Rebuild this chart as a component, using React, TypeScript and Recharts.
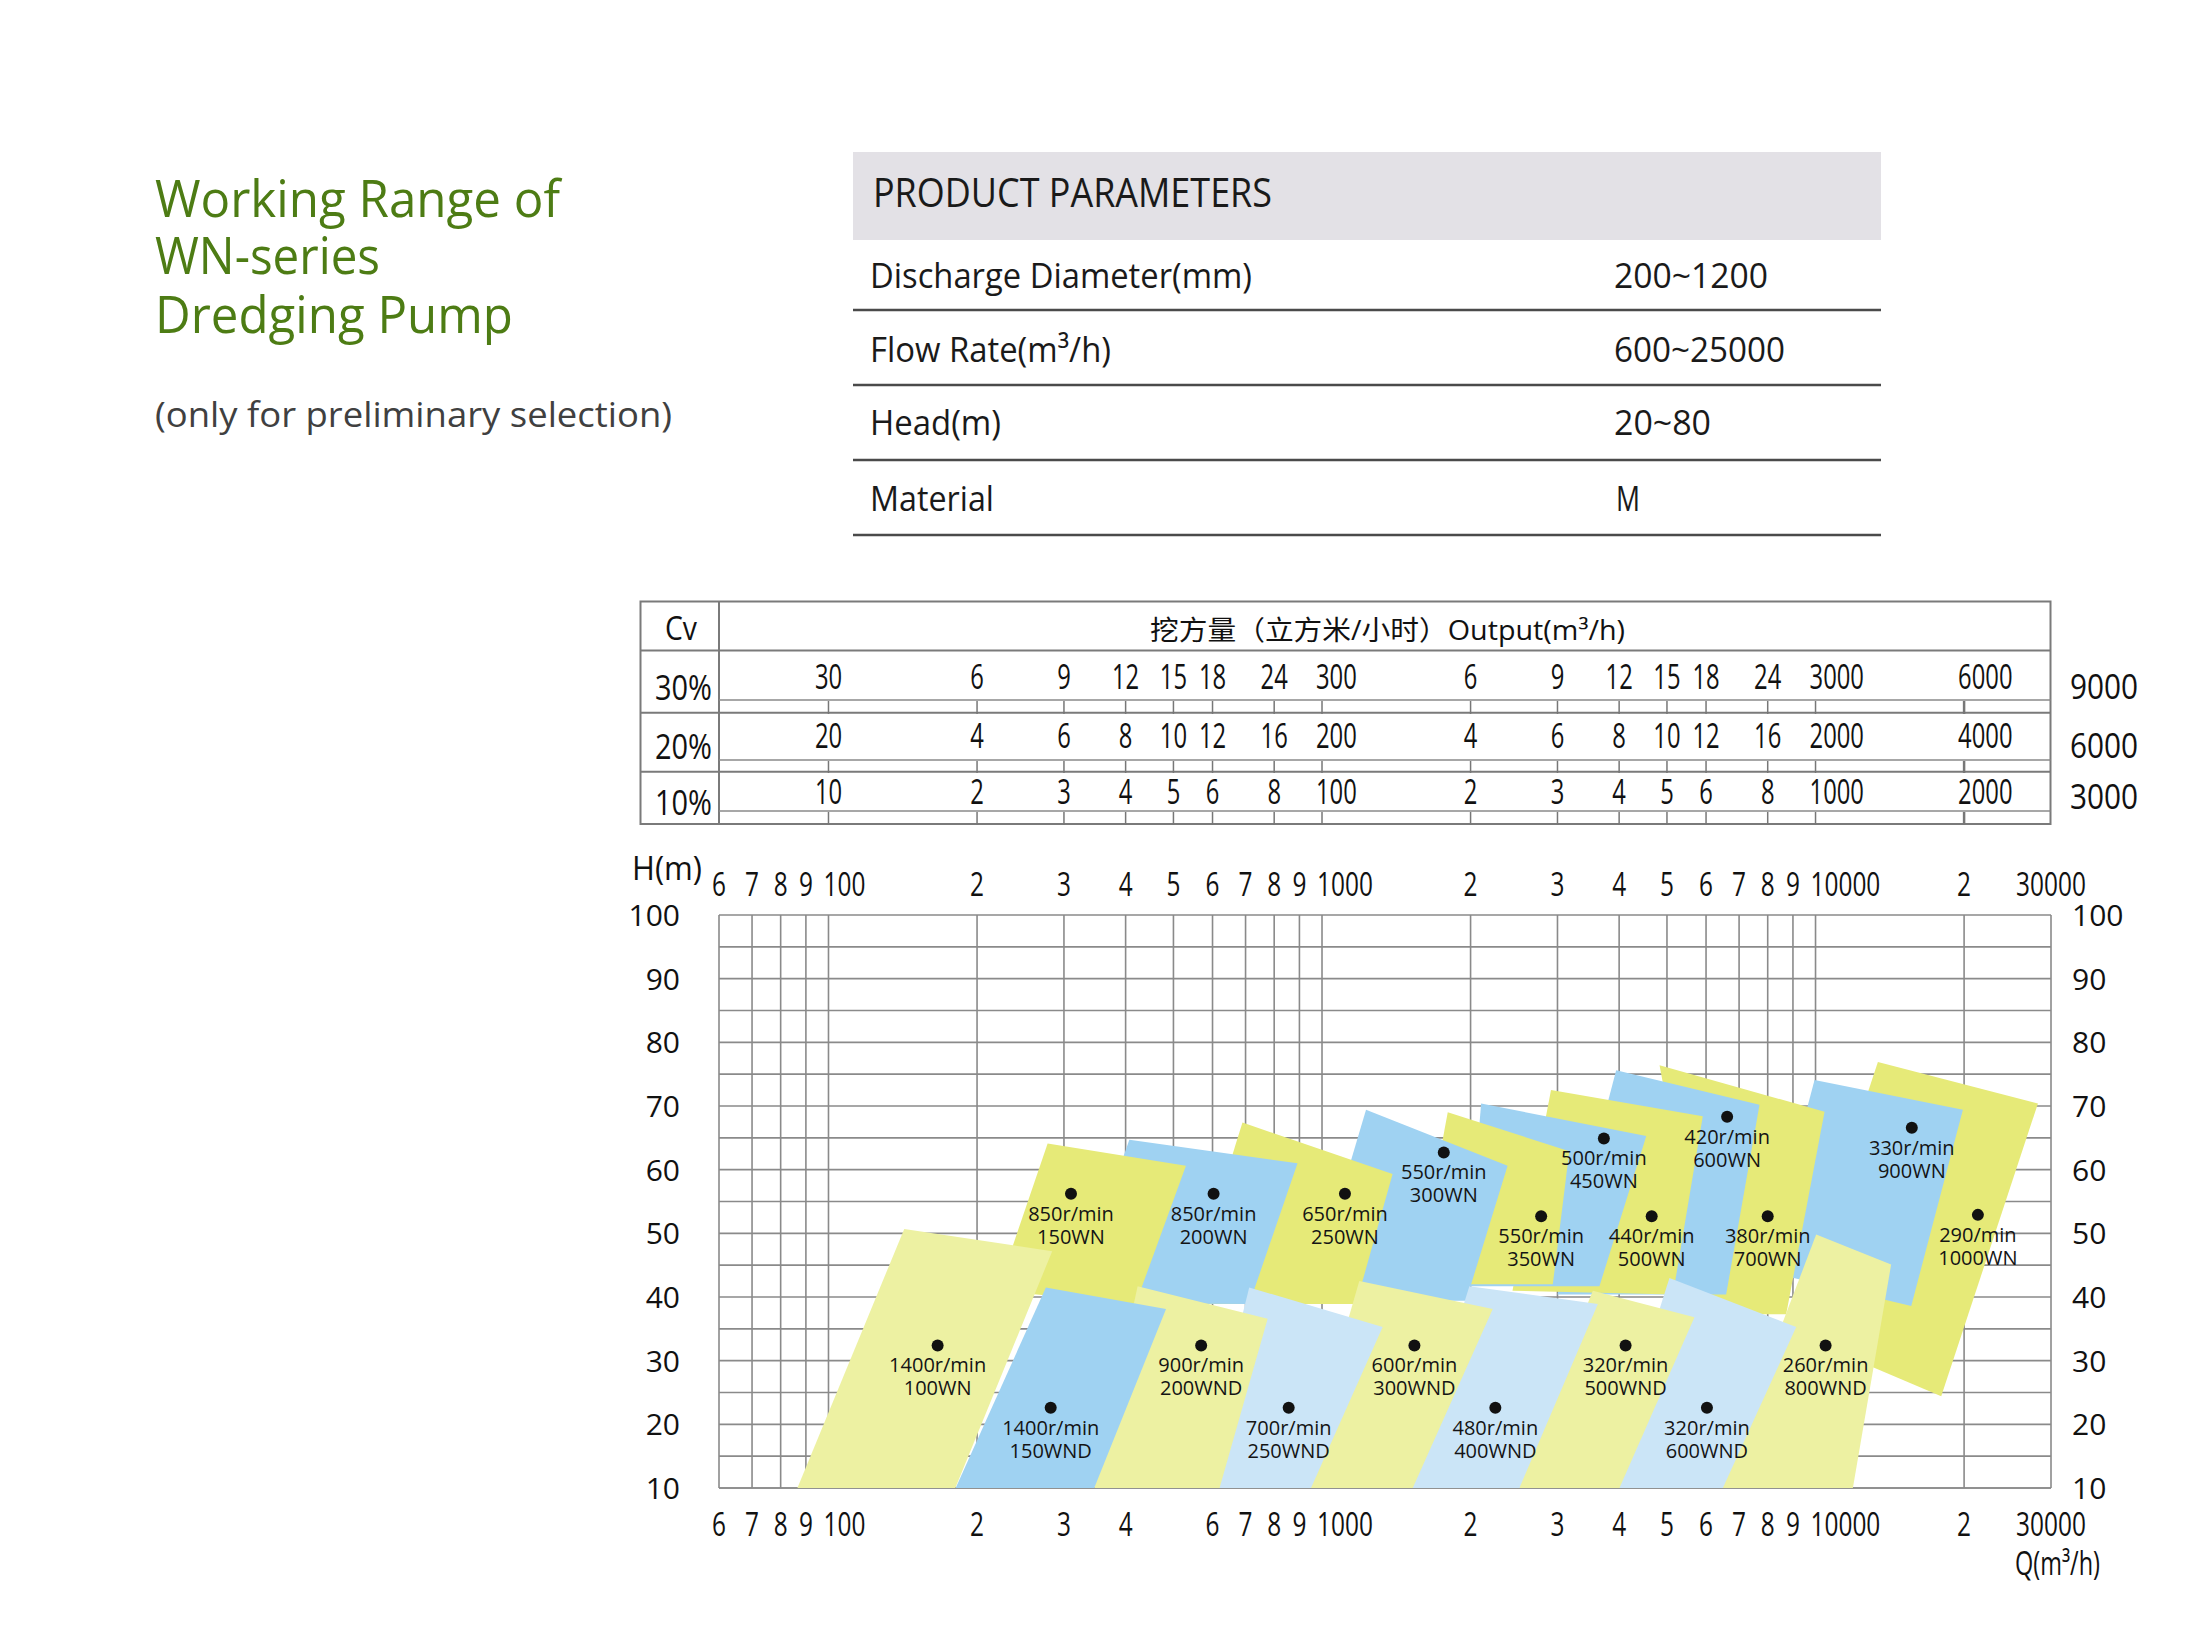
import React from "react";
import { ComposedChart, Scatter, XAxis, YAxis, CartesianGrid, ReferenceLine } from "recharts";

const FONT = "'Open Sans', 'Noto Sans', 'Noto Sans CJK SC', sans-serif";
const YELLOW = "#e6ea78";
const LIGHT_YELLOW = "#edf1a2";
const BLUE = "#9fd2f2";
const LIGHT_BLUE = "#cbe5f7";
const GRID = "#8a8a8a";

// Q axis (log scale), top and bottom
const qTicks = [60, 70, 80, 90, 100, 200, 300, 400, 500, 600, 700, 800, 900, 1000, 2000, 3000, 4000, 5000, 6000, 7000, 8000, 9000, 10000, 20000, 30000];
const qTopLabels = ["6", "7", "8", "9", "100", "2", "3", "4", "5", "6", "7", "8", "9", "1000", "2", "3", "4", "5", "6", "7", "8", "9", "10000", "2", "30000"];
const qBottomLabels = ["6", "7", "8", "9", "100", "2", "3", "4", "", "6", "7", "8", "9", "1000", "2", "3", "4", "5", "6", "7", "8", "9", "10000", "2", "30000"];
const hTicks = [10, 15, 20, 25, 30, 35, 40, 45, 50, 55, 60, 65, 70, 75, 80, 85, 90, 95, 100];

// Cv output table
const cvTicks = [100, 200, 300, 400, 500, 600, 800, 1000, 2000, 3000, 4000, 5000, 6000, 8000, 10000, 20000];
const cv30 = ["30", "6", "9", "12", "15", "18", "24", "300", "6", "9", "12", "15", "18", "24", "3000", "6000"];
const cv20 = ["20", "4", "6", "8", "10", "12", "16", "200", "4", "6", "8", "10", "12", "16", "2000", "4000"];
const cv10 = ["10", "2", "3", "4", "5", "6", "8", "100", "2", "3", "4", "5", "6", "8", "1000", "2000"];
const cvRowNames = ["30%", "20%", "10%"];
const cvRight = ["9000", "6000", "3000"];

// working ranges [Q m3/h, H m]: upper-left, upper-right, lower-right, lower-left
const wn150 = [[278, 64.1], [530, 60.6], [419, 38.9], [220, 41]];
const wn200 = [[407, 64.7], [892, 61.0], [712, 38.9], [311, 39]];
const wn250 = [[690, 67.4], [1390, 59.3], [1172, 38.9], [530, 38.9]];
const wn300 = [[1228, 69.4], [2377, 60.6], [1958, 39.4], [943, 39.4]];
const wn350 = [[1798, 69.0], [3170, 62.9], [2935, 42.0], [1550, 42.0]];
const wn450 = [[2101, 70.4], [4540, 65.3], [3649, 41.7], [1958, 41.7]];
const wn500 = [[2911, 72.5], [5909, 68.4], [5142, 40.4], [2432, 41]];
const wn600 = [[3945, 75.6], [7700, 70.2], [6590, 40.4], [3000, 40.4]];
const wn700 = [[4830, 76.4], [10430, 69.1], [8720, 37.3], [6000, 37.3]];
const wn900 = [[9953, 74.1], [19889, 69.4], [15630, 38.6], [7870, 44.1]];
const wn1000 = [[13377, 76.9], [28225, 70.4], [17975, 24.4], [8830, 34.6]];
const wn100 = [[142.4, 50.7], [284, 47.2], [180.7, 10], [86.5, 10]];
const wnd150 = [[275.7, 41.5], [483, 38.1], [345.5, 10], [181, 10]];
const wnd200 = [[423, 41.7], [776, 36.6], [620, 10], [345.5, 10]];
const wnd250 = [[712, 41.5], [1327, 35.3], [950, 10], [565, 10]];
const wnd300 = [[1190, 42.5], [2218, 38.1], [1527, 10], [900, 10]];
const wnd400 = [[1989, 41.7], [3622, 38.9], [2512, 10], [1480, 10]];
const wnd500 = [[3538, 41.0], [5684, 36.8], [4006, 10], [2440, 10]];
const wnd600 = [[5058, 43.0], [9138, 35.3], [6490, 10], [3706, 10]];
const wnd800 = [[10030, 49.8], [14230, 45.1], [11904, 10], [6390, 10]];

// best efficiency points
const dutyQ = [310, 603, 1113, 1765, 2780, 3725, 4656, 6620, 8000, 15670, 21330, 166.4, 282, 569, 856, 1539, 2245, 4122, 6025, 10480];
const dutyH = [56.2, 56.2, 56.2, 62.7, 52.7, 64.9, 52.7, 68.3, 52.7, 66.6, 52.9, 32.4, 22.6, 32.4, 22.6, 32.4, 22.6, 32.4, 22.6, 32.4];
const dutyRpm = ["850r/min", "850r/min", "650r/min", "550r/min", "550r/min", "500r/min", "440r/min", "420r/min", "380r/min", "330r/min", "290/min", "1400r/min", "1400r/min", "900r/min", "700r/min", "600r/min", "480r/min", "320r/min", "320r/min", "260r/min"];
const dutyModel = ["150WN", "200WN", "250WN", "300WN", "350WN", "450WN", "500WN", "600WN", "700WN", "900WN", "1000WN", "100WN", "150WND", "200WND", "250WND", "300WND", "400WND", "500WND", "600WND", "800WND"];

const regionFill: Record<string, string> = {
  wn150: YELLOW, wn200: BLUE, wn250: YELLOW, wn300: BLUE, wn350: YELLOW, wn450: BLUE,
  wn500: YELLOW, wn600: BLUE, wn700: YELLOW, wn900: BLUE, wn1000: YELLOW,
  wn100: LIGHT_YELLOW, wnd150: BLUE, wnd200: LIGHT_YELLOW, wnd250: LIGHT_BLUE, wnd300: LIGHT_YELLOW,
  wnd400: LIGHT_BLUE, wnd500: LIGHT_YELLOW, wnd600: LIGHT_BLUE, wnd800: LIGHT_YELLOW,
};

// painted back to front: upper row first, left ones over right ones
const layers: [string, number[][]][] = [
  ["wn1000", wn1000], ["wn900", wn900], ["wn700", wn700], ["wn600", wn600], ["wn500", wn500], ["wn450", wn450],
  ["wn350", wn350], ["wn300", wn300], ["wn250", wn250], ["wn200", wn200], ["wn150", wn150],
  ["wnd800", wnd800], ["wnd600", wnd600], ["wnd500", wnd500], ["wnd400", wnd400], ["wnd300", wnd300],
  ["wnd250", wnd250], ["wnd200", wnd200], ["wnd150", wnd150], ["wn100", wn100],
];

const toPoints = (a: number[][]) => a.map(([q, h]) => ({ q, h }));
const dutyPoints = dutyQ.map((q, i) => ({ q, h: dutyH[i], rpm: dutyRpm[i], model: dutyModel[i] }));
const cvAxisTicks = [...cvTicks, 30000];

const hiddenVertex = () => <g />;

const regionShape = (fill: string) => (lp: any) => (
  <polygon points={(lp.points || []).map((p: any) => `${p.x},${p.y}`).join(" ")} fill={fill} stroke="none" />
);

const DutyPoint = (props: any) => {
  const { cx, cy, payload } = props;
  return (
    <g fontFamily={FONT} fontSize={20} fill="#141414" textAnchor="middle">
      <circle cx={cx} cy={cy} r={6} fill="#111" />
      <text x={cx} y={cy + 27}>{payload.rpm}</text>
      <text x={cx} y={cy + 50}>{payload.model}</text>
    </g>
  );
};

const renderQTick = (labels: string[], dy: number) => (props: any) => {
  const { x, y, payload } = props;
  const label = labels[qTicks.indexOf(payload.value)];
  if (!label) return <g />;
  const long = label.length >= 3 && label !== "30000";
  return (
    <g transform={`translate(${long ? x - 5 : x},${y + dy}) scale(0.74,1)`}>
      <text x={0} y={0} textAnchor={long ? "start" : "middle"} fontSize={33} fontFamily={FONT} fill="#111">{label}</text>
    </g>
  );
};

const renderHTick = (side: "left" | "right") => (props: any) => {
  const { x, y, payload } = props;
  if (payload.value % 10 !== 0) return <g />;
  return (
    <text x={side === "left" ? x - 39 : x + 21} y={y + 11} textAnchor={side === "left" ? "end" : "start"} fontSize={30} fontFamily={FONT} fill="#111">
      {payload.value}
    </text>
  );
};

const cvBase = [-226, -167, -111];
const cvRightBase = [-216, -157, -106];
const cvMarks = [[-214, -201], [-154, -142], [-103, -90]];

const renderCvTick = (props: any) => {
  const { x, y, payload } = props;
  const i = cvAxisTicks.indexOf(payload.value);
  if (i === cvTicks.length) {
    return (
      <g>
        {cvRight.map((t, r) => (
          <g key={r} transform={`translate(${x + 19},${y + cvRightBase[r]}) scale(0.85,1)`}>
            <text x={0} y={0} fontSize={35} fontFamily={FONT} fill="#111">{t}</text>
          </g>
        ))}
      </g>
    );
  }
  const rows = [cv30[i], cv20[i], cv10[i]];
  return (
    <g>
      {rows.map((t, r) => {
        const long = t.length >= 3;
        return (
          <g key={r} transform={`translate(${long ? x - 6 : x},${y + cvBase[r]}) scale(0.68,1)`}>
            <text x={0} y={0} textAnchor={long ? "start" : "middle"} fontSize={35} fontFamily={FONT} fill="#111">{t}</text>
          </g>
        );
      })}
      {cvMarks.map(([a, b], r) => (
        <line key={`m${r}`} x1={x} x2={x} y1={y + a} y2={y + b} stroke="#777" strokeWidth={i === cvTicks.length - 1 ? 2.5 : 1.5} />
      ))}
    </g>
  );
};

function Overlay() {
  const t = { fontFamily: FONT, lengthAdjust: "spacingAndGlyphs" as const };
  return (
    <svg width={2205} height={1637} style={{ position: "absolute", left: 0, top: 0 }}>
      <g fill="#4d7c14" fontSize={52}>
        <text {...t} x={155} y={217} textLength={405}>Working Range of</text>
        <text {...t} x={155} y={274} textLength={225}>WN-series</text>
        <text {...t} x={155} y={333} textLength={358}>Dredging Pump</text>
      </g>
      <text {...t} x={155} y={427} textLength={517} fontSize={34} fill="#404040">(only for preliminary selection)</text>

      <rect x={853} y={152} width={1028} height={88} fill="#e3e1e6" />
      <text {...t} x={873} y={207} textLength={399} fontSize={40} fill="#1a1a1a">PRODUCT PARAMETERS</text>
      <g fontSize={35} fill="#1a1a1a">
        <text {...t} x={870} y={288} textLength={382}>Discharge Diameter(mm)</text>
        <text {...t} x={1614} y={288} textLength={154}>200~1200</text>
        <text {...t} x={870} y={362} textLength={241}>Flow Rate(m³/h)</text>
        <text {...t} x={1614} y={362} textLength={171}>600~25000</text>
        <text {...t} x={870} y={435} textLength={131}>Head(m)</text>
        <text {...t} x={1614} y={435} textLength={97}>20~80</text>
        <text {...t} x={870} y={511} textLength={124}>Material</text>
        <text {...t} x={1616} y={511} textLength={24}>M</text>
      </g>
      <g stroke="#4a4a4a" strokeWidth={2.5}>
        <line x1={853} x2={1881} y1={310} y2={310} />
        <line x1={853} x2={1881} y1={385} y2={385} />
        <line x1={853} x2={1881} y1={460} y2={460} />
        <line x1={853} x2={1881} y1={535} y2={535} />
      </g>

      <g stroke="#7a7a7a" strokeWidth={2} fill="none">
        <rect x={640.5} y={601.5} width={1410} height={222.5} />
        <line x1={719} x2={719} y1={601.5} y2={824} />
        <line x1={640.5} x2={2050.5} y1={650.5} y2={650.5} />
        <line x1={640.5} x2={2050.5} y1={712.7} y2={712.7} />
        <line x1={640.5} x2={2050.5} y1={771.7} y2={771.7} />
      </g>
      <g stroke="#8a8a8a" strokeWidth={1.5}>
        <line x1={719} x2={2050.5} y1={700} y2={700} />
        <line x1={719} x2={2050.5} y1={760} y2={760} />
        <line x1={719} x2={2050.5} y1={811} y2={811} />
      </g>
      <g fill="#111">
        <text {...t} x={665} y={640} textLength={32} fontSize={33}>Cv</text>
        {cvRowNames.map((n, i) => (
          <text {...t} key={n} x={655} y={[700, 759, 815][i]} textLength={57} fontSize={35}>{n}</text>
        ))}
        <text {...t} x={1150} y={640} textLength={475} fontSize={27}>挖方量（立方米/小时）Output(m³/h)</text>
        <text {...t} x={632} y={880} textLength={70} fontSize={32}>H(m)</text>
        <text {...t} x={2015} y={1575} textLength={85} fontSize={32}>Q(m³/h)</text>
      </g>
    </svg>
  );
}

export default function App() {
  return (
    <div style={{ position: "relative", width: 2205, height: 1637, background: "#fff", fontFamily: FONT }}>
      <style>{"body{margin:0;}"}</style>
      <Overlay />
      <div style={{ position: "absolute", left: 0, top: 0 }}>
        <ComposedChart width={2205} height={1637} margin={{ top: 913, right: 153, bottom: 148, left: 718 }}>
          <CartesianGrid stroke={GRID} strokeWidth={1.6} fill="none" />
          <XAxis xAxisId={0} dataKey="q" type="number" scale="log" domain={[60, 30000]} ticks={qTicks} interval={0}
            orientation="bottom" height={1} tickSize={0} tickMargin={0} axisLine={false} tickLine={false}
            tick={renderQTick(qBottomLabels, 48)} allowDataOverflow />
          <XAxis xAxisId="top" dataKey="q" type="number" scale="log" domain={[60, 30000]} ticks={qTicks} interval={0}
            orientation="top" height={1} tickSize={0} tickMargin={0} axisLine={false} tickLine={false}
            tick={renderQTick(qTopLabels, -18)} allowDataOverflow />
          <XAxis xAxisId="cv" dataKey="q" type="number" scale="log" domain={[60, 30000]} ticks={cvAxisTicks} interval={0}
            orientation="top" height={1} tickSize={0} tickMargin={0} axisLine={false} tickLine={false}
            tick={renderCvTick} allowDataOverflow />
          <YAxis yAxisId={0} dataKey="h" type="number" domain={[10, 100]} ticks={hTicks} interval={0} width={1}
            tickSize={0} tickMargin={0} axisLine={false} tickLine={false} tick={renderHTick("left")} allowDataOverflow />
          <YAxis yAxisId="right" orientation="right" dataKey="h" type="number" domain={[10, 100]} ticks={hTicks} interval={0} width={1}
            tickSize={0} tickMargin={0} axisLine={false} tickLine={false} tick={renderHTick("right")} allowDataOverflow />
          {layers.map(([name, pts]) => (
            <Scatter key={name} name={name} data={toPoints(pts)} isAnimationActive={false} shape={hiddenVertex}
              line={regionShape(regionFill[name])} legendType="none" />
          ))}
          <ReferenceLine y={10} stroke={GRID} strokeWidth={1.6} />
          <Scatter name="duty" data={dutyPoints} isAnimationActive={false} shape={DutyPoint} legendType="none" />
        </ComposedChart>
      </div>
    </div>
  );
}
